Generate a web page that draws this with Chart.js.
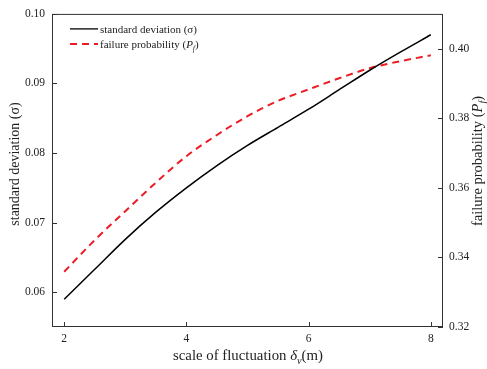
<!DOCTYPE html>
<html lang="en">
<head>
    <meta charset="UTF-8">
    <title>standard deviation and failure probability</title>
    <script src="https://cdn.jsdelivr.net/npm/chart.js"></script>
    <style>
        html, body { margin: 0; padding: 0; background: #fff; }
        .chart-container { width: 487px; height: 369px; }
    </style>
</head>
<body>
    <div class="chart-container">
        <canvas id="sofChart"></canvas>
    </div>

    <script>
        // data
        const scaleOfFluctuation = [2, 2.5, 3, 3.5, 4, 4.5, 5, 5.5, 6, 6.5, 7, 7.5, 8];
        const stdDeviation = [0.0590, 0.0633, 0.0676, 0.0715, 0.0750, 0.0782, 0.0811, 0.0837, 0.0863, 0.0891, 0.0919, 0.0945, 0.0970];
        const failureProb = [0.3359, 0.3450, 0.3533, 0.3615, 0.3691, 0.3752, 0.3806, 0.3850, 0.3883, 0.3915, 0.3944, 0.3964, 0.3981];
        const xTicks = [2, 4, 6, 8];
        const leftTicks = [0.06, 0.07, 0.08, 0.09, 0.10];
        const rightTicks = [0.32, 0.34, 0.36, 0.38, 0.40];

        const serif = "'Liberation Serif', 'Times New Roman', serif";
        const redColor = '#ec1c24';

        // draws a string made of parts, some italic or subscript
        function richWidth(ctx, parts, size) {
            let w = 0;
            parts.forEach(p => {
                const s = p.sub ? size * 0.7 : size;
                ctx.font = (p.it ? 'italic ' : '') + s + 'px ' + serif;
                w += ctx.measureText(p.t).width;
            });
            return w;
        }
        function drawRich(ctx, parts, x, y, size) {
            ctx.textBaseline = 'alphabetic';
            ctx.textAlign = 'left';
            parts.forEach(p => {
                const s = p.sub ? size * 0.7 : size;
                ctx.font = (p.it ? 'italic ' : '') + s + 'px ' + serif;
                ctx.fillText(p.t, x, p.sub ? y + size * 0.25 : y);
                x += ctx.measureText(p.t).width;
            });
        }

        const xTitle = [{t: 'scale of fluctuation '}, {t: 'δ', it: true}, {t: 'v', it: true, sub: true}, {t: '(m)'}];
        const leftTitle = [{t: 'standard deviation (σ)'}];
        const rightTitle = [{t: 'failure probability ('}, {t: 'P', it: true}, {t: 'f', it: true, sub: true}, {t: ')'}];
        const legend1 = [{t: 'standard deviation (σ)'}];
        const legend2 = [{t: 'failure probability ('}, {t: 'P', it: true}, {t: 'f', it: true, sub: true}, {t: ')'}];

        const framePlugin = {
            id: 'frame',
            afterDraw(chart) {
                const ctx = chart.ctx;
                const a = chart.chartArea;
                const sx = chart.scales.x, sl = chart.scales.y, sr = chart.scales.y1;
                ctx.save();
                ctx.strokeStyle = '#333';
                ctx.lineWidth = 1;
                ctx.strokeRect(a.left + 0.5, a.top + 0.5, a.right - a.left - 1, a.bottom - a.top - 1);
                // inward tick marks
                ctx.beginPath();
                xTicks.forEach(v => {
                    const px = Math.round(sx.getPixelForValue(v)) + 0.5;
                    ctx.moveTo(px, a.bottom); ctx.lineTo(px, a.bottom - 5);
                });
                leftTicks.forEach(v => {
                    const py = Math.round(sl.getPixelForValue(v)) + 0.5;
                    ctx.moveTo(a.left, py); ctx.lineTo(a.left + 5, py);
                });
                rightTicks.forEach(v => {
                    const py = Math.round(sr.getPixelForValue(v)) + 0.5;
                    ctx.moveTo(a.right, py); ctx.lineTo(a.right - 5, py);
                });
                ctx.stroke();

                ctx.fillStyle = '#222';
                // axis titles
                let w = richWidth(ctx, xTitle, 14.8);
                drawRich(ctx, xTitle, 248 - w / 2, 360, 14.8);

                ctx.save();
                ctx.translate(19, 164);
                ctx.rotate(-Math.PI / 2);
                w = richWidth(ctx, leftTitle, 14);
                drawRich(ctx, leftTitle, -w / 2, 0, 14);
                ctx.restore();

                ctx.save();
                ctx.translate(482, 161);
                ctx.rotate(-Math.PI / 2);
                w = richWidth(ctx, rightTitle, 14.5);
                drawRich(ctx, rightTitle, -w / 2, 0, 14.5);
                ctx.restore();

                // legend
                const lx = a.left + 18, ly = a.top + 15;
                ctx.lineWidth = 1.3;
                ctx.strokeStyle = '#000';
                ctx.beginPath(); ctx.moveTo(lx, ly); ctx.lineTo(lx + 28, ly); ctx.stroke();
                ctx.strokeStyle = redColor;
                ctx.lineWidth = 2;
                ctx.setLineDash([7, 5]);
                ctx.beginPath(); ctx.moveTo(lx, ly + 15); ctx.lineTo(lx + 28, ly + 15); ctx.stroke();
                ctx.setLineDash([]);
                drawRich(ctx, legend1, lx + 30, ly + 4, 11);
                drawRich(ctx, legend2, lx + 30, ly + 19, 11);
                ctx.restore();
            }
        };

        const tickFont = { family: serif, size: 11.5 };

        new Chart(document.getElementById('sofChart'), {
            type: 'line',
            data: {
                labels: scaleOfFluctuation,
                datasets: [
                    {
                        label: 'standard deviation (σ)',
                        data: scaleOfFluctuation.map((x, i) => ({x: x, y: stdDeviation[i]})),
                        borderColor: '#000',
                        borderWidth: 1.5,
                        pointRadius: 0,
                        cubicInterpolationMode: 'monotone',
                        yAxisID: 'y'
                    },
                    {
                        label: 'failure probability (Pf)',
                        data: scaleOfFluctuation.map((x, i) => ({x: x, y: failureProb[i]})),
                        borderColor: redColor,
                        borderWidth: 2,
                        borderDash: [7, 5],
                        pointRadius: 0,
                        cubicInterpolationMode: 'monotone',
                        yAxisID: 'y1'
                    }
                ]
            },
            options: {
                responsive: true,
                maintainAspectRatio: false,
                animation: false,
                layout: { padding: { top: 12, left: 0, right: 0, bottom: 0 } },
                plugins: {
                    legend: { display: false },
                    tooltip: { enabled: false }
                },
                scales: {
                    x: {
                        type: 'linear',
                        min: 1.8,
                        max: 8.2,
                        grid: { display: false, drawTicks: false },
                        border: { display: false },
                        ticks: { stepSize: 2, includeBounds: false, padding: 5, color: '#222', font: tickFont },
                        afterFit(s) { s.height = 42; }
                    },
                    y: {
                        position: 'left',
                        min: 0.055,
                        max: 0.10,
                        grid: { display: false, drawTicks: false },
                        border: { display: false },
                        ticks: { stepSize: 0.01, includeBounds: false, padding: 7, color: '#222', font: tickFont,
                                 callback: v => v.toFixed(2) },
                        afterFit(s) { s.width = 52; }
                    },
                    y1: {
                        position: 'right',
                        min: 0.32,
                        max: 0.41,
                        grid: { display: false, drawTicks: false },
                        border: { display: false },
                        ticks: { stepSize: 0.02, includeBounds: false, padding: 6, color: '#222', font: tickFont,
                                 callback: v => v.toFixed(2) },
                        afterFit(s) { s.width = 44; }
                    }
                }
            },
            plugins: [framePlugin]
        });
    </script>
</body>
</html>
